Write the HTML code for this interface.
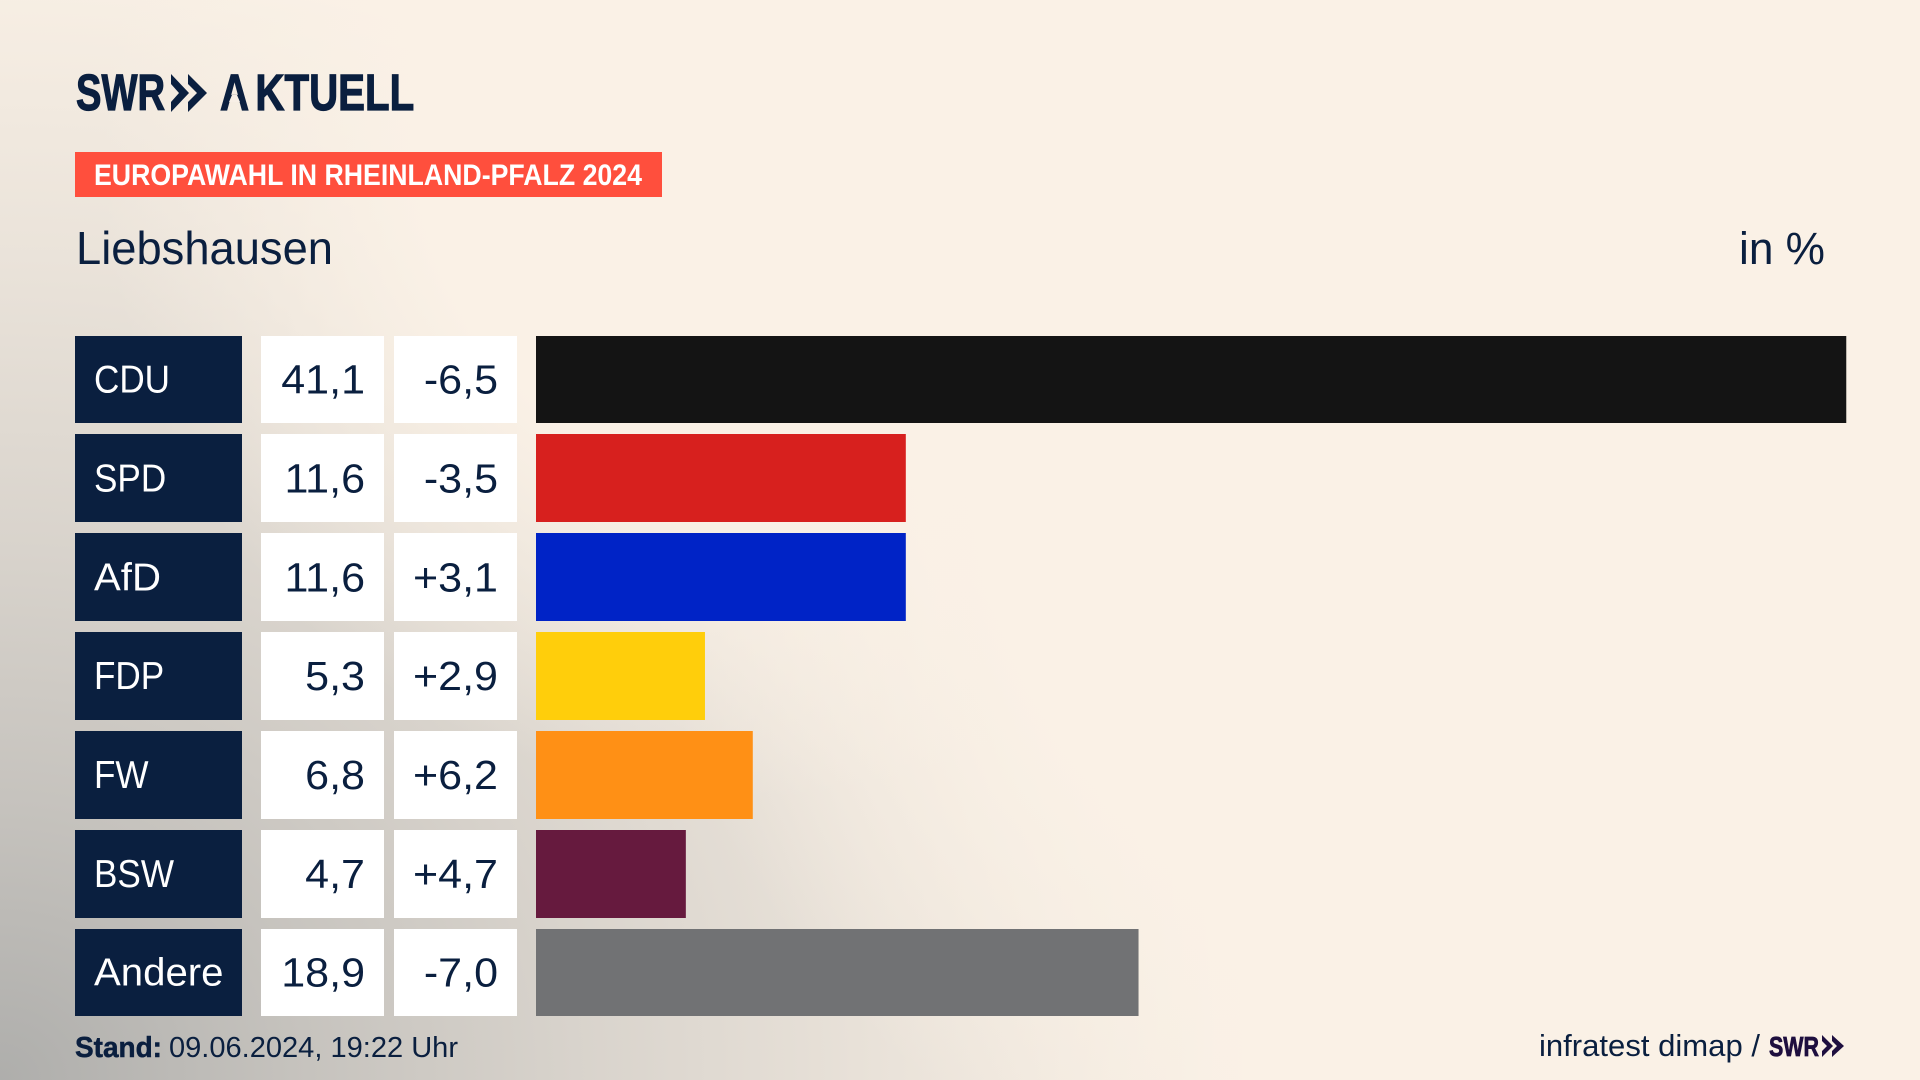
<!DOCTYPE html>
<html lang="de">
<head>
<meta charset="utf-8">
<title>Europawahl in Rheinland-Pfalz 2024 – Liebshausen</title>
<style>
html,body{margin:0;padding:0;width:1920px;height:1080px;overflow:hidden;background:#faf1e6}
#stage{position:absolute;left:0;top:0;width:1920px;height:1080px;
background:
 radial-gradient(circle 650px at 750px 150px, rgba(250,241,230,1) 0%, rgba(250,241,230,1) 50%, rgba(250,241,230,0) 100%),
 radial-gradient(circle 780px at 1420px 480px, rgba(250,241,230,1) 0%, rgba(250,241,230,1) 55%, rgba(250,241,230,0) 100%),
 radial-gradient(ellipse 1250px 1150px at 0px 1080px, rgba(153,155,155,.78) 0%, rgba(153,155,155,.54) 24%, rgba(153,155,155,.34) 47%, rgba(153,155,155,.16) 72%, rgba(153,155,155,0) 100%),
 #faf1e6}
svg{position:absolute;left:0;top:0}
text{font-family:"Liberation Sans",sans-serif}
</style>
</head>
<body>
<div id="stage">
<svg id="chart" width="1920" height="1080" viewBox="0 0 1920 1080" xmlns="http://www.w3.org/2000/svg">
  <g fill="#0a1f3f">
    <text x="76" y="110" font-size="51" font-weight="700" stroke="#0a1f3f" stroke-width="1.2" textLength="89" lengthAdjust="spacingAndGlyphs">SWR</text>
    <polygon points="171,74 189,93 171,112 171,102 179,93 171,84"/>
    <polygon points="188,74 207,93 188,112 188,102 197,93 188,84"/>
    <text transform="translate(220 110) scale(0.79 1)" font-size="51" font-weight="700" stroke="#0a1f3f" stroke-width="1.2">A<tspan dx="8">KTUELL</tspan></text>
    <polygon points="232,95 237,95 240,102 229,102" fill="#f8efe6"/>
  </g>
  <g>
    <rect x="75" y="152" width="587" height="45" fill="#ff4f3d"/>
    <text x="94" y="185" font-size="30" font-weight="700" fill="#ffffff" textLength="548" lengthAdjust="spacingAndGlyphs">EUROPAWAHL IN RHEINLAND-PFALZ 2024</text>
  </g>
  <text x="76" y="264" font-size="46" fill="#0a1f3f" textLength="257" lengthAdjust="spacingAndGlyphs">Liebshausen</text>
  <text x="1739" y="264" font-size="45" fill="#0a1f3f" textLength="86" lengthAdjust="spacingAndGlyphs">in %</text>
  <g id="rows"></g>
  <g>
    <text x="75" y="1057" font-size="29" font-weight="700" fill="#0a1f3f" stroke="#0a1f3f" stroke-width="0.5" textLength="87" lengthAdjust="spacingAndGlyphs">Stand:</text>
    <text x="169" y="1057" font-size="29" fill="#0a1f3f" textLength="289" lengthAdjust="spacingAndGlyphs">09.06.2024, 19:22 Uhr</text>
    <text x="1539" y="1056" font-size="31" fill="#0a1f3f" textLength="221" lengthAdjust="spacingAndGlyphs">infratest dimap /</text>
    <text x="1769" y="1056" font-size="28" font-weight="700" fill="#1e0f3f" stroke="#1e0f3f" stroke-width="0.8" textLength="50" lengthAdjust="spacingAndGlyphs">SWR</text>
    <polygon points="1822,1035 1833,1046 1822,1057 1822,1051 1827,1046 1822,1041" fill="#1e0f3f"/>
    <polygon points="1832,1035 1844,1046 1832,1057 1832,1051 1837,1046 1832,1041" fill="#1e0f3f"/>
  </g>
</svg>
</div>
<script>
const parties = ["CDU", "SPD", "AfD", "FDP", "FW", "BSW", "Andere"];
const shares = [41.1, 11.6, 11.6, 5.3, 6.8, 4.7, 18.9];
const changes = [-6.5, -3.5, 3.1, 2.9, 6.2, 4.7, -7.0];
const partyColors = ["#141414", "#d7201e", "#0023c6", "#ffce0b", "#ff9015", "#661a3e", "#717274"];

const NS = "http://www.w3.org/2000/svg";
const rowsGroup = document.getElementById("rows");
const X0 = 536, PX_PER_PCT = 31.88;
const ROW_TOP = 336, ROW_PITCH = 98.84, ROW_H = 87.4;
function xScale(v) { return v * PX_PER_PCT; }
function yTop(i) { return Math.floor(ROW_TOP + i * ROW_PITCH); }
function yBottom(i) { return Math.round(ROW_TOP + i * ROW_PITCH + ROW_H); }
function fmtShare(v) { return v.toFixed(1).replace(".", ","); }
function fmtChange(v) { return (v > 0 ? "+" : "") + v.toFixed(1).replace(".", ","); }
function mk(tag, attrs, parent) {
  const el = document.createElementNS(NS, tag);
  for (const k in attrs) el.setAttribute(k, attrs[k]);
  parent.appendChild(el);
  return el;
}
parties.forEach(function (party, i) {
  const y = yTop(i);
  const h = yBottom(i) - y;
  const slug = party.toLowerCase();
  const mid = ROW_TOP + i * ROW_PITCH + ROW_H / 2;

  const row = mk("g", {}, rowsGroup);
  
  

  const labelBox = mk("rect", { x: 75, y: y, width: 167, height: h, fill: "#0a1f3f" }, row);
  
  

  const sx = /[a-z]/.test(party) ? 1.03 : 0.9;
  const label = mk("text", { transform: "translate(94 " + (mid + 13) + ") scale(" + sx + " 1)", "font-size": 39, fill: "#ffffff" }, row);
  label.textContent = party;
  
  

  const shareBox = mk("rect", { x: 261, y: y, width: 123, height: h, fill: "#ffffff" }, row);
  
  

  const share = mk("text", { transform: "translate(365 " + (mid + 14) + ") scale(1.05 1)", "font-size": 41, "text-anchor": "end", fill: "#0a1f3f" }, row);
  share.textContent = fmtShare(shares[i]);
  
  

  const changeBox = mk("rect", { x: 394, y: y, width: 123, height: h, fill: "#ffffff" }, row);
  
  

  const change = mk("text", { transform: "translate(498 " + (mid + 14) + ") scale(1.05 1)", "font-size": 41, "text-anchor": "end", fill: "#0a1f3f" }, row);
  change.textContent = fmtChange(changes[i]);
  
  

  const bar = mk("rect", { x: X0, y: y, width: xScale(shares[i]), height: h, fill: partyColors[i] }, row);
  
  
});
</script>
</body>
</html>
